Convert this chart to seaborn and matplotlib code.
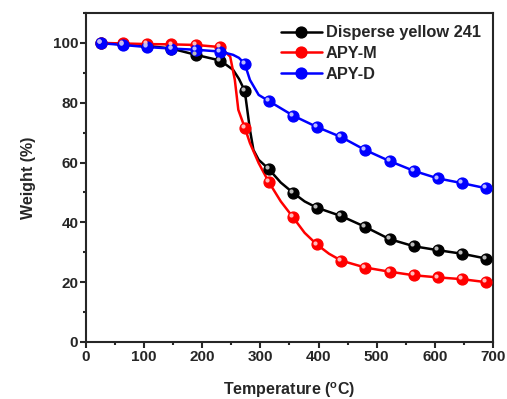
import numpy as np
import pandas as pd
import matplotlib
matplotlib.use("Agg")
import matplotlib.pyplot as plt
import matplotlib.transforms as mtransforms
from matplotlib.lines import Line2D
from matplotlib.ticker import MultipleLocator
import seaborn as sns

# marker temperatures (degC)
temp_marks = [25, 64, 105, 147, 189, 231, 273, 314, 356, 397, 439, 480, 522, 564, 605, 647, 688]

# weight (%) at the markers
dy241_marks = [100.0, 99.5, 99.0, 98.1, 96.0, 94.1, 84.0, 57.9, 49.9, 44.9, 42.1, 38.5, 34.4, 32.0, 30.7, 29.5, 27.9]
apym_marks = [100.0, 99.8, 99.6, 99.5, 99.3, 98.6, 71.7, 53.6, 41.7, 32.6, 27.2, 24.9, 23.5, 22.3, 21.6, 21.0, 20.0]
apyd_marks = [99.9, 99.3, 98.6, 98.1, 97.7, 97.1, 93.0, 80.6, 75.7, 71.9, 68.5, 64.2, 60.5, 57.2, 54.7, 53.1, 51.4]

# extra points (temp, weight)
dy241_extra_t = [253, 263, 282, 288, 297, 335, 376, 700]
dy241_extra_w = [91.0, 88.0, 70.9, 64.2, 60.9, 53.3, 47.0, 27.6]
apym_extra_t = [248, 256, 262, 282, 297, 335, 376, 418, 700]
apym_extra_w = [95.4, 87.6, 77.6, 66.5, 59.8, 47.0, 36.5, 29.5, 19.8]
apyd_extra_t = [253, 263, 282, 297, 700]
apyd_extra_w = [96.0, 95.0, 87.6, 82.6, 51.0]

labels = ["Disperse yellow 241", "APY-M", "APY-D"]
colors = ["#000000", "#ff0000", "#0000ff"]
light = ["#bbbbbb", "#ffbbbb", "#bbbbff"]

sns.set_style("ticks")
plt.rcParams["font.family"] = ["Liberation Sans", "DejaVu Sans"]
plt.rcParams["font.weight"] = "bold"
plt.rcParams["mathtext.fontset"] = "custom"
plt.rcParams["mathtext.rm"] = "Liberation Sans:bold"
plt.rcParams["mathtext.default"] = "rm"

fig = plt.figure(figsize=(5.07, 3.99), dpi=100)
ax = fig.add_axes([0.1696, 0.1429, 0.8028, 0.8246])

series = [
    (dy241_marks, dy241_extra_t, dy241_extra_w),
    (apym_marks, apym_extra_t, apym_extra_w),
    (apyd_marks, apyd_extra_t, apyd_extra_w),
]

hl = mtransforms.offset_copy(ax.transData, fig=fig, x=-1.3, y=1.3, units="points")

for (marks, et, ew), lab, c, lc in zip(series, labels, colors, light):
    curve = pd.DataFrame({"t": temp_marks + et, "w": marks + ew}).sort_values("t")
    sns.lineplot(data=curve, x="t", y="w", color=c, lw=1.8, ax=ax, sort=False,
                 legend=False, zorder=2)
    ax.plot(temp_marks, marks, ls="none", marker="o", ms=7.8, mfc=c, mec=c,
            zorder=3)
    ax.plot(temp_marks, marks, ls="none", marker="o", ms=3.0, mfc=lc, mec="none",
            transform=hl, zorder=4)

handles = [Line2D([], [], color=c, lw=1.8, marker="o", ms=7.8, mfc=c, mec=c)
           for c in colors]
ax.legend(handles, labels, loc="upper right", frameon=False,
          handlelength=2.5, handletextpad=0.25, labelspacing=0.36,
          borderaxespad=0.45, borderpad=0.3, prop={"weight": "bold", "size": 11.8})

ax.set_xlim(0, 700)
ax.set_ylim(0, 110)
ax.xaxis.set_major_locator(MultipleLocator(100))
ax.xaxis.set_minor_locator(MultipleLocator(50))
ax.yaxis.set_major_locator(MultipleLocator(20))
ax.yaxis.set_minor_locator(MultipleLocator(10))
ax.tick_params(which="both", direction="out", width=1.5, labelsize=11,
               top=False, right=False, pad=1.5)
ax.tick_params(which="major", length=4)
ax.tick_params(which="minor", length=2.5)
for s in ax.spines.values():
    s.set_linewidth(1.5)
    s.set_visible(True)

ax.set_xlabel("Temperature ($^{o}$C)", fontsize=11.5, fontweight="bold", labelpad=12)
ax.set_ylabel("Weight (%)", fontsize=11.5, fontweight="bold", labelpad=12)

fig.savefig("out.png", dpi=100)
